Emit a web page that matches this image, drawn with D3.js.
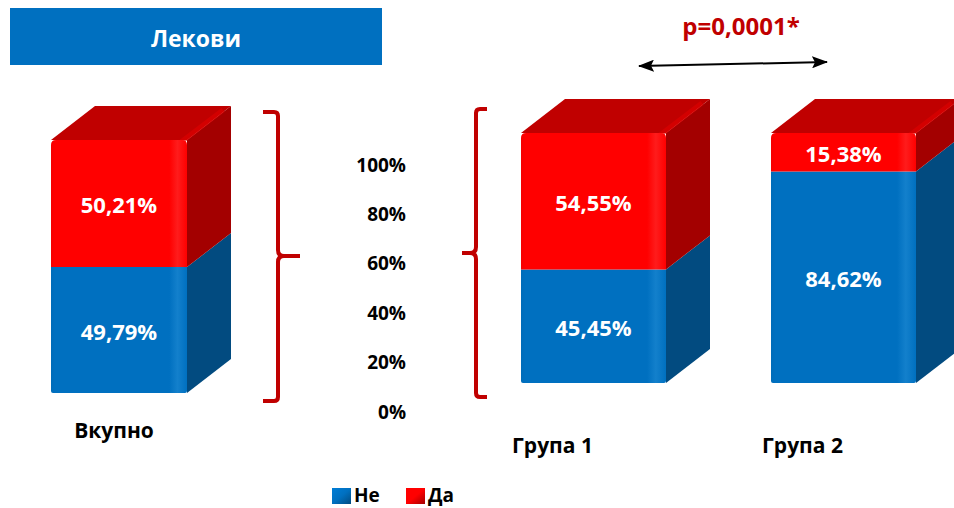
<!DOCTYPE html>
<html>
<head>
<meta charset="utf-8">
<script src="https://cdn.jsdelivr.net/npm/d3@7"></script>
<style>
  html, body { margin: 0; padding: 0; background: #fff; }
  svg { display: block; font-family: "Open Sans", "Noto Sans", sans-serif; font-weight: bold; }
</style>
</head>
<body>
<svg id="chart" width="954" height="508"></svg>
<script>
// Share of patients on medication (Да = yes, Не = no)
const totalCategory = ["Вкупно"];
const groupCategories = ["Група 1", "Група 2"];
const seriesKeys = ["Не", "Да"];
const neValues = [49.79, 45.45, 84.62];   // Вкупно, Група 1, Група 2
const daValues = [50.21, 54.55, 15.38];
const tickValues = [0, 20, 40, 60, 80, 100];
const titleText = "Лекови";
const pValueText = "p=0,0001*";

const svg = d3.select("#chart");
const defs = svg.append("defs");

const colors = {
  "Не": { front: "#0070C0", hi: "#1380CC", side: "#024B80", top: "#005A9C" },
  "Да": { front: "#FF0000", hi: "#FF1C1C", side: "#A30000", top: "#C00000" }
};
const depth = { dx: 44, dy: -34 };

// front-face gradients with a soft highlight near the right bevel
seriesKeys.forEach((k, i) => {
  const g = defs.append("linearGradient").attr("id", "front" + i)
    .attr("x1", 0).attr("x2", 1).attr("y1", 0).attr("y2", 0);
  g.append("stop").attr("offset", "0%").attr("stop-color", d3.color(colors[k].front).darker(0.1));
  g.append("stop").attr("offset", "3%").attr("stop-color", colors[k].front);
  g.append("stop").attr("offset", "87%").attr("stop-color", colors[k].front);
  g.append("stop").attr("offset", "93%").attr("stop-color", colors[k].hi);
  g.append("stop").attr("offset", "100%").attr("stop-color", colors[k].front);
  const lg = defs.append("linearGradient").attr("id", "legend" + i)
    .attr("x1", 0).attr("x2", 1).attr("y1", 0).attr("y2", 1);
  lg.append("stop").attr("offset", "0%").attr("stop-color", d3.color(colors[k].front).brighter(0.3));
  lg.append("stop").attr("offset", "50%").attr("stop-color", colors[k].front);
  lg.append("stop").attr("offset", "100%").attr("stop-color", colors[k].side);
});

// header banner
svg.append("rect").attr("x", 10).attr("y", 8).attr("width", 372).attr("height", 57).attr("fill", "#0070C0");
svg.append("text").attr("x", 196).attr("y", 47).attr("text-anchor", "middle")
  .attr("fill", "#fff").attr("font-size", 23).text(titleText);

// stacked data
const rows = [...totalCategory, ...groupCategories].map((c, i) => ({ cat: c, "Не": neValues[i], "Да": daValues[i] }));
const stacked = d3.stack().keys(seriesKeys)(rows);

// two panels: total on the left, groups on the right
const xTotal = d3.scaleBand().domain(totalCategory).range([51, 187]).padding(0);
const yTotal = d3.scaleLinear().domain([0, 100]).range([393, 140]);
const xGroups = d3.scaleBand().domain(groupCategories).range([521, 916]).paddingInner(0.42).paddingOuter(0);
const yGroups = d3.scaleLinear().domain([0, 100]).range([383, 133]);

function panelFor(cat) {
  return totalCategory.includes(cat)
    ? { x: xTotal, y: yTotal, labelShift: -5, labelY: 438 }
    : { x: xGroups, y: yGroups, labelShift: -41, labelY: 453 };
}

// front face path with softly rounded outer corners
function frontPath(x0, x1, yTop, yBot, roundTop, roundBot) {
  const r = 5;
  const p = d3.path();
  p.moveTo(x0, yTop + (roundTop ? r : 0));
  if (roundTop) { p.quadraticCurveTo(x0, yTop, x0 + r, yTop); p.lineTo(x1 - r, yTop); p.quadraticCurveTo(x1, yTop, x1, yTop + r); }
  else { p.lineTo(x1, yTop); }
  if (roundBot) { p.lineTo(x1, yBot - 2); p.quadraticCurveTo(x1, yBot, x1 - 2, yBot); p.lineTo(x0 + 2, yBot); p.quadraticCurveTo(x0, yBot, x0, yBot - 2); }
  else { p.lineTo(x1, yBot); p.lineTo(x0, yBot); }
  p.closePath();
  return p.toString();
}

const barsG = svg.append("g");
rows.forEach((row, ri) => {
  const { x, y, labelShift, labelY } = panelFor(row.cat);
  const x0 = x(row.cat), x1 = x0 + x.bandwidth();
  const g = barsG.append("g");
  const segs = stacked.map((s, si) => ({ key: s.key, si, lo: s[ri][0], hi: s[ri][1] }));
  // side faces
  segs.forEach(s => {
    const yb = y(s.lo), yt = y(s.hi);
    g.append("path")
      .attr("d", `M${x1},${yb}L${x1 + depth.dx},${yb + depth.dy}L${x1 + depth.dx},${yt + depth.dy}L${x1},${yt}Z`)
      .attr("fill", colors[s.key].side);
  });
  // top face of the uppermost segment
  const topSeg = segs[segs.length - 1];
  const yt = y(topSeg.hi);
  g.append("path")
    .attr("d", `M${x0},${yt}L${x0 + depth.dx},${yt + depth.dy}L${x1 + depth.dx},${yt + depth.dy}L${x1},${yt}Z`)
    .attr("fill", colors[topSeg.key].top);
  // bevel highlight along the front-right top edge
  g.append("path")
    .attr("d", `M${x1 - 6},${yt + 2}L${x1 + depth.dx - 8},${yt + depth.dy + 4}`)
    .attr("stroke", "#E00000").attr("stroke-width", 5).attr("opacity", 0.6);
  // front faces
  segs.forEach((s, i) => {
    g.append("path")
      .attr("d", frontPath(x0, x1, y(s.hi), y(s.lo), i === segs.length - 1, i === 0))
      .attr("fill", `url(#front${s.si})`);
  });
  // value labels
  segs.forEach(s => {
    const v = s.key === "Не" ? row["Не"] : row["Да"];
    g.append("text")
      .attr("x", (x0 + x1) / 2).attr("y", (y(s.lo) + y(s.hi)) / 2 + 2)
      .attr("dy", "0.36em").attr("text-anchor", "middle")
      .attr("fill", "#fff").attr("font-size", 22)
      .text(d3.format(".2f")(v).replace(".", ",") + "%");
  });
  // category label
  svg.append("text").attr("x", (x0 + x1) / 2 + labelShift).attr("y", labelY).attr("text-anchor", "middle")
    .attr("fill", "#000").attr("font-size", 21).text(row.cat);
});

// percentage axis between panels
const yAxisScale = d3.scaleLinear().domain([0, 100]).range([412, 165]);
const axisG = svg.append("g").attr("transform", "translate(406,0)")
  .call(d3.axisLeft(yAxisScale).tickValues(tickValues).tickSize(0).tickPadding(0).tickFormat(d => d + "%"));
axisG.select(".domain").remove();
axisG.selectAll("text").attr("font-size", 19).attr("font-weight", "bold")
  .attr("font-family", "'Open Sans', sans-serif").attr("fill", "#000");

// curly brackets
const bracketColor = "#C00000";
svg.append("path")
  .attr("d", "M263,112H274Q278,112 278,116V250Q278,256 284,256H300M284,256Q278,256 278,262V397Q278,401 274,401H263")
  .attr("fill", "none").attr("stroke", bracketColor).attr("stroke-width", 4);
svg.append("path")
  .attr("d", "M487,109H480Q476,109 476,113V247Q476,253 470,253H462M470,253Q476,253 476,259V393Q476,397 480,397H487")
  .attr("fill", "none").attr("stroke", bracketColor).attr("stroke-width", 4);

// significance marker between groups
svg.append("text").attr("x", 741).attr("y", 35).attr("text-anchor", "middle")
  .attr("fill", "#C00000").attr("font-size", 24).text(pValueText);
const mk = defs.append("marker").attr("id", "arrow").attr("viewBox", "0 0 16 12")
  .attr("refX", 15).attr("refY", 6).attr("markerWidth", 16).attr("markerHeight", 12)
  .attr("markerUnits", "userSpaceOnUse").attr("orient", "auto-start-reverse");
mk.append("path").attr("d", "M0,0L16,6L0,12L3,6Z").attr("fill", "#000");
svg.append("line").attr("x1", 639).attr("y1", 66).attr("x2", 827).attr("y2", 62)
  .attr("stroke", "#000").attr("stroke-width", 2)
  .attr("marker-start", "url(#arrow)").attr("marker-end", "url(#arrow)");

// legend
const legend = svg.append("g");
[{ k: "Не", x: 332 }, { k: "Да", x: 406 }].forEach(d => {
  const si = seriesKeys.indexOf(d.k);
  legend.append("rect").attr("x", d.x).attr("y", 488).attr("width", 19).attr("height", 16)
    .attr("fill", `url(#legend${si})`);
  legend.append("text").attr("x", d.x + 22).attr("y", 502).attr("font-size", 19).attr("fill", "#000").text(d.k);
});
</script>
</body>
</html>
